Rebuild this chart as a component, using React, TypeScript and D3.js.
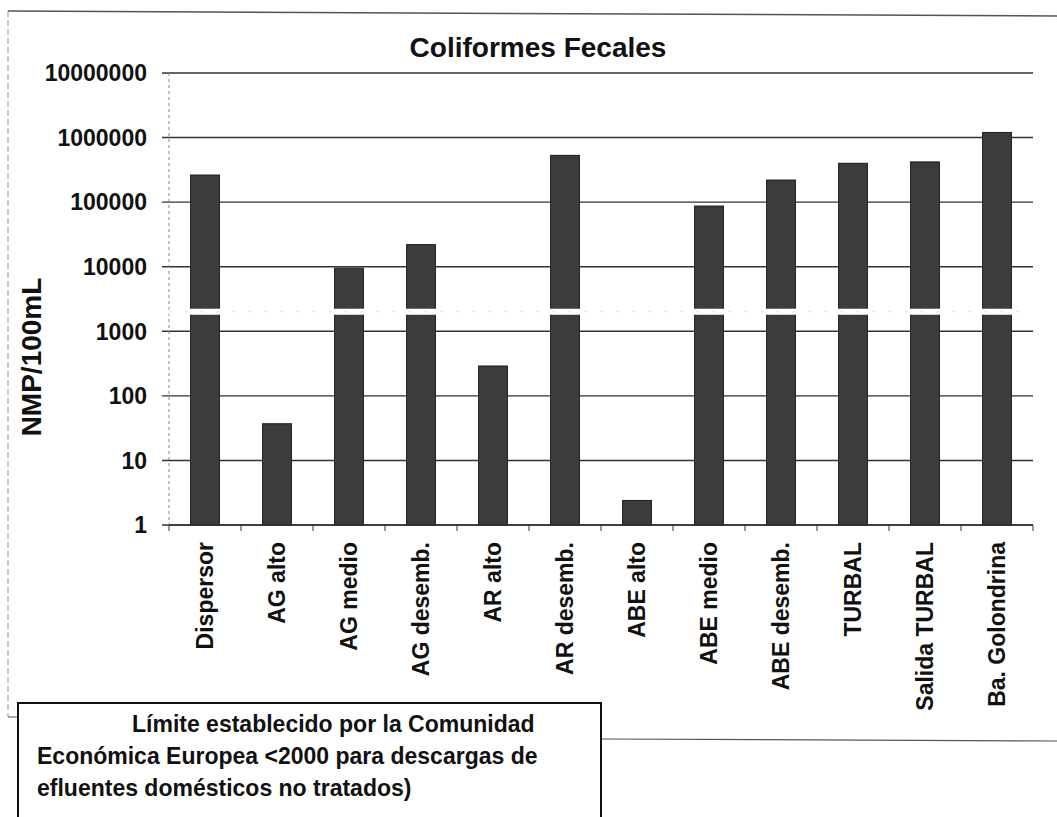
import React from "react";
import * as d3 from "d3";

const categories = [
  "Dispersor",
  "AG alto",
  "AG medio",
  "AG desemb.",
  "AR alto",
  "AR desemb.",
  "ABE alto",
  "ABE medio",
  "ABE desemb.",
  "TURBAL",
  "Salida TURBAL",
  "Ba. Golondrina",
];
const values = [263000, 37, 9500, 22000, 290, 530000, 2.4, 87000, 220000, 400000, 420000, 1200000];
const yTicks = [1, 10, 100, 1000, 10000, 100000, 1000000, 10000000];
const limitValue = 2000;
const title = "Coliformes Fecales";
const yTitle = "NMP/100mL";
const noteLines = [
  "Límite establecido por la Comunidad",
  "Económica Europea <2000 para descargas de",
  "efluentes domésticos no tratados)",
];

const W = 1057;
const H = 817;
const FONT = "'Liberation Sans', Arial, Helvetica, sans-serif";

export default function App() {
  const x = d3
    .scaleBand<string>()
    .domain(categories)
    .range([169, 1033])
    .paddingInner(0.6)
    .paddingOuter(0.3);
  const y = d3.scaleLog().domain([1, 1e7]).range([525, 73]);
  const step = x.step();
  const x0 = 169;
  const x1 = 1033;
  const boundaries = d3.range(categories.length + 1).map((i) => x0 + i * step);

  return (
    <svg
      width={W}
      height={H}
      style={{ position: "absolute", left: 0, top: 0, background: "#fff" }}
      fontFamily={FONT}
    >
      {/* outer frame */}
      <line x1={8} y1={11} x2={W} y2={16} stroke="#555" strokeWidth={1.5} />
      <line x1={8} y1={11} x2={8} y2={717} stroke="#999" strokeWidth={1} strokeDasharray="6 3" />
      <line x1={8} y1={717} x2={18} y2={717} stroke="#555" strokeWidth={1} />
      <line x1={601} y1={739} x2={W} y2={741} stroke="#555" strokeWidth={1.2} />

      {/* title */}
      <text x={538} y={57} textAnchor="middle" fontSize={28} fontWeight="bold" fill="#111">
        {title}
      </text>

      {/* gridlines */}
      {yTicks.map((t) => (
        <line key={t} x1={162} x2={x1} y1={y(t)} y2={y(t)} stroke="#333" strokeWidth={1.4} />
      ))}

      {/* y axis */}
      <line x1={x0} x2={x0} y1={y(1e7)} y2={y(1)} stroke="#888" strokeWidth={1} strokeDasharray="3 3" />
      {yTicks.map((t) => (
        <text
          key={"l" + t}
          x={147}
          y={y(t)}
          dy="0.36em"
          textAnchor="end"
          fontSize={23}
          fontWeight="bold"
          fill="#111"
        >
          {String(t)}
        </text>
      ))}
      <text
        transform={`translate(31, 357) rotate(-90)`}
        textAnchor="middle"
        dy="0.36em"
        fontSize={28}
        fontWeight="bold"
        fill="#111"
      >
        {yTitle}
      </text>

      {/* bars */}
      {categories.map((c, i) => (
        <rect
          key={c}
          x={x(c)}
          width={x.bandwidth()}
          y={y(values[i])}
          height={y(1) - y(values[i])}
          fill="#3c3c3c"
          stroke="#1a1a1a"
          strokeWidth={1}
        />
      ))}

      {/* limit line at 2000 */}
      <line x1={x0} x2={x1} y1={y(limitValue)} y2={y(limitValue)} stroke="#fff" strokeWidth={6} />
      <line
        x1={x0}
        x2={x1}
        y1={y(limitValue)}
        y2={y(limitValue)}
        stroke="#ccc"
        strokeWidth={1}
        strokeDasharray="2 14"
      />

      {/* x axis */}
      <line x1={x0} x2={x1} y1={y(1)} y2={y(1)} stroke="#333" strokeWidth={1.4} />
      {boundaries.map((b, i) => (
        <line key={"t" + i} x1={b} x2={b} y1={y(1)} y2={y(1) + 6} stroke="#333" strokeWidth={1} />
      ))}
      {categories.map((c) => {
        const cx = (x(c) as number) + x.bandwidth() / 2;
        return (
          <text
            key={"x" + c}
            transform={`translate(${cx}, 542) rotate(-90)`}
            textAnchor="end"
            dy="0.36em"
            fontSize={23}
            fontWeight="bold"
            fill="#111"
          >
            {c}
          </text>
        );
      })}

      {/* note box */}
      <rect x={18} y={703} width={583} height={140} fill="#fff" stroke="#111" strokeWidth={2} />
      {noteLines.map((ln, i) => (
        <text
          key={"n" + i}
          x={i === 0 ? 132 : 37}
          y={732 + i * 32}
          fontSize={23}
          fontWeight="bold"
          fill="#111"
        >
          {ln}
        </text>
      ))}
    </svg>
  );
}
